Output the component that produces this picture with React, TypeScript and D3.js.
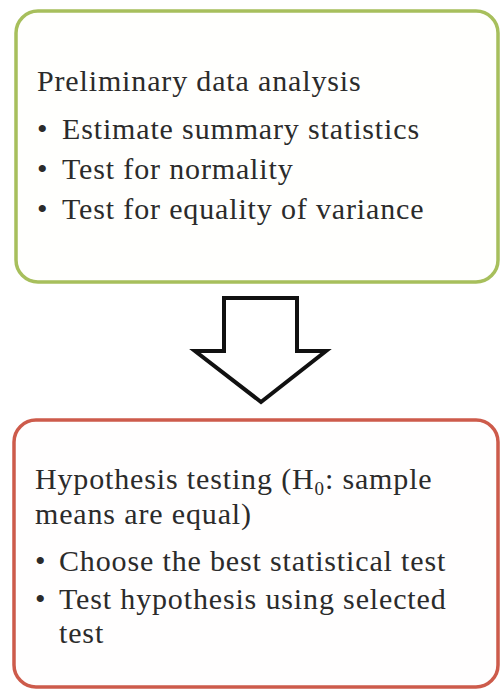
import React from "react";
import * as d3 from "d3";

const topHeading = ["Preliminary data analysis"];
const topBullets = [
  ["Estimate summary statistics"],
  ["Test for normality"],
  ["Test for equality of variance"],
];
const bottomHeading = ["Hypothesis testing (H", "0", ": sample", "means are equal)"];
const bottomBullets = [
  ["Choose the best statistical test"],
  ["Test hypothesis using selected", "test"],
];

const FONT = "'Liberation Serif', 'Times New Roman', serif";
const FS = 30;
const LS = 0.85;
const TXT = "#2b2b2b";

export default function App() {
  const arrow: [number, number][] = [
    [224, 298],
    [297, 298],
    [297, 351],
    [326, 351],
    [261, 402],
    [195, 351],
    [224, 351],
  ];
  const line = d3.line().curve(d3.curveLinearClosed);
  return (
    <svg
      width={500}
      height={690}
      style={{ position: "absolute", left: 0, top: 0, background: "#fff" }}
    >
      <rect x={0} y={0} width={500} height={690} fill="#fff" />
      <rect
        x={16}
        y={11}
        width={482}
        height={271}
        rx={22}
        ry={22}
        fill="#fffffd"
        stroke="#a7bf5c"
        strokeWidth={3.5}
      />
      <rect
        x={14}
        y={420}
        width={484}
        height={267}
        rx={22}
        ry={22}
        fill="#fffefe"
        stroke="#cd5b4b"
        strokeWidth={3.5}
      />
      <path
        d={line(arrow) || ""}
        fill="#fff"
        stroke="#111"
        strokeWidth={4}
        strokeLinejoin="miter"
      />
      <g fontFamily={FONT} fontSize={FS} fill={TXT} letterSpacing={LS}>
        <text x={37} y={91}>{topHeading[0]}</text>
        {topBullets.map((b, i) => (
          <g key={i}>
            <text x={37} y={139 + i * 40}>•</text>
            <text x={62} y={139 + i * 40}>{b[0]}</text>
          </g>
        ))}
        <text x={35} y={489}>
          {bottomHeading[0]}
          <tspan fontSize={19} dy={6}>{bottomHeading[1]}</tspan>
          <tspan dy={-6}>{bottomHeading[2]}</tspan>
        </text>
        <text x={35} y={524}>{bottomHeading[3]}</text>
        <text x={35} y={571}>•</text>
        <text x={59} y={571}>{bottomBullets[0][0]}</text>
        <text x={35} y={609}>•</text>
        <text x={59} y={609}>{bottomBullets[1][0]}</text>
        <text x={59} y={643}>{bottomBullets[1][1]}</text>
      </g>
    </svg>
  );
}
